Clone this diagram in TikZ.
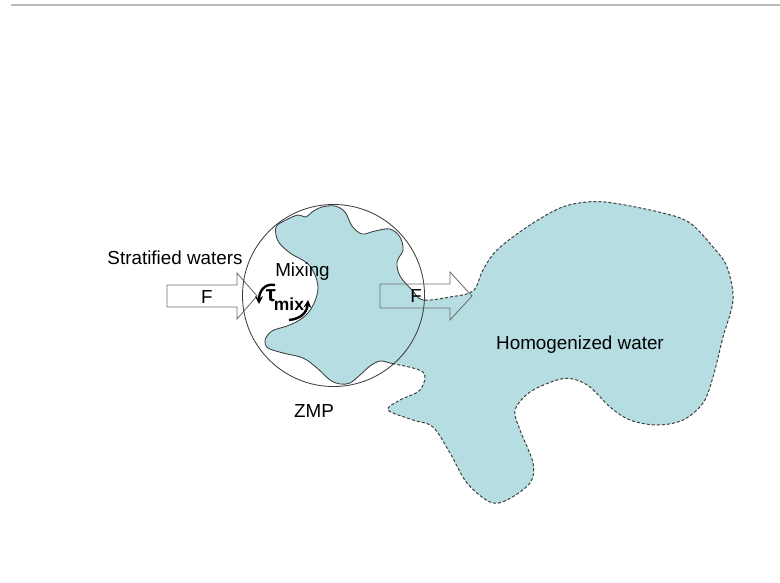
\documentclass[tikz,border=0pt]{standalone}
\usepackage{fontspec}
\setmainfont{Liberation Sans}
\usetikzlibrary{arrows.meta, positioning}
\definecolor{waterblue}{RGB}{182,222,226}
\definecolor{edgegray}{RGB}{60,60,60}

\begin{document}
\begin{tikzpicture}[
		x=0.025cm, y=-0.025cm,
		font=\fontsize{13.4}{16}\selectfont,
		>=Stealth,
		txt/.style={anchor=base, inner sep=0pt},
		flowarrow/.style={draw=gray!85!black, line width=0.6pt},
		solidedge/.style={draw=edgegray, line width=0.6pt},
		dashededge/.style={draw=edgegray, line width=0.7pt, dash pattern=on 2.2pt off 1.4pt},
		spin/.style={line width=1.7pt, -{Stealth[length=5.5pt, width=5.5pt]}}
		]
		
		\useasboundingbox (0,0) rectangle (780,583);
		
		% thin rule at the top
		\draw[gray!55, line width=0.8pt] (11,5) -- (780,5);
		
		% outline of the water body
		\path[save path=\waterpath] plot[smooth cycle, tension=0.55] coordinates {
			(276,227) (286,220) (298,215) (306,217) (312,212) (322,207) (335,206)
			(345,212) (352,226) (362,234) (375,231) (390,229) (400,237) (403,250)
			(397,262) (400,276) (412,290) (423,300)
			(450,297) (473,291) (483,270) (497,250) (527,227) (560,208) (587,202)
			(613,203) (663,213) (690,223) (713,247) (727,267) (733,300) (723,337)
			(713,377) (703,403) (683,420) (657,425) (630,420) (610,407) (590,387)
			(573,379) (557,380) (530,392) (515,410) (520,430) (533,463) (530,483)
			(507,500) (490,502) (467,483) (450,453) (433,427) (413,420) (388,410)
			(400,400) (420,390) (423,372) (390,363)
			(380,361) (370,366) (360,375) (350,383) (340,384) (330,380) (317,368)
			(303,358) (283,353) (268,348) (265,340) (272,331) (287,326) (298,321)
			(308,313) (315,301) (318,288) (315,275) (307,263) (290,253) (278,241)};
		
		% water fill
		\path[use path=\waterpath, fill=waterblue];
		
		% inflow arrow
		\path[flowarrow, fill=white] (167,285) -- (237,285) -- (237,273) -- (257,296)
			-- (237,319) -- (237,307) -- (167,307) -- cycle;
		
		% mixing zone
		\node[circle, draw=edgegray, line width=0.6pt, minimum size=4.55cm, inner sep=0pt]
			(zone) at (333.5,295.5) {};
		
		% solid edge inside the zone, dashed edge outside
		\begin{scope}
			\clip (zone.center) circle[radius=2.275cm];
			\path[use path=\waterpath, solidedge];
		\end{scope}
		\begin{scope}[even odd rule]
			\clip (0,0) rectangle (780,583) (zone.center) circle[radius=2.275cm];
			\path[use path=\waterpath, dashededge];
		\end{scope}
		
		% outflow arrow
		\path[flowarrow] (380,284) -- (450,284) -- (450,272) -- (472,296)
			-- (450,320) -- (450,308) -- (380,308) -- cycle;
		
		% labels
		\node[txt] (strat) at (175,264) {Stratified waters};
		\node[txt] (mixing) at (302.5,276) {Mixing};
		\node[txt] (zmp) at (314,417) {ZMP};
		\node[txt] (homog) at (580,349) {Homogenized water};
		\node[txt] (fin) at (207,303) {F};
		\node[txt] (fout) at (416,302) {F};
		\node[txt, font=\fontsize{16}{16}\selectfont\bfseries] (taubox) at (271,301) {τ};
		\node[txt, font=\fontsize{12.4}{14}\selectfont\bfseries] (taumix) at (289,310) {mix};
		
		% turning arrows round tau
		\draw[spin] (275,285) .. controls (264,283) and (259,292) .. (259,304);
		\draw[spin] (289,320) .. controls (300,319) and (307,313) .. (308,300);
		
	\end{tikzpicture}
\end{document}
